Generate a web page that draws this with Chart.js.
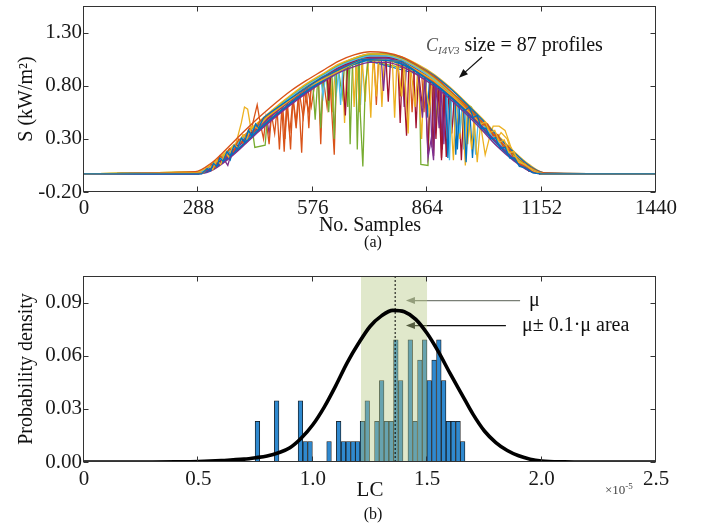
<!DOCTYPE html>
<html><head><meta charset="utf-8">
<script src="https://cdn.jsdelivr.net/npm/chart.js@4.4.1/dist/chart.umd.min.js"></script>
<style>
html,body{margin:0;padding:0;background:#fff;}
body{width:704px;height:529px;position:relative;overflow:hidden;font-family:'Liberation Serif','Times New Roman',serif;}
canvas{position:absolute;left:0;}
#c1{top:0;}
#c2{top:260px;}
.t{position:absolute;white-space:nowrap;line-height:1;color:#111;}
</style></head><body>
<canvas id="c1" width="704" height="260" style="width:704px;height:260px"></canvas>
<canvas id="c2" width="704" height="269" style="width:704px;height:269px"></canvas>
<div class="t" style="left:373px;top:234px;font-size:16px;transform:translateX(-50%)">(a)</div>
<div class="t" style="left:373px;top:506px;font-size:16px;transform:translateX(-50%)">(b)</div>
<div class="t" style="left:426px;top:34px;font-size:20px;"><span style="font-style:italic;color:#555;font-size:18px">C</span><span style="font-style:italic;color:#555;font-size:11px;position:relative;top:3px">I4V3</span> size = 87 profiles</div>
<div class="t" style="left:529px;top:289px;font-size:20px;">μ</div>
<div class="t" style="left:522px;top:314px;font-size:20px;">μ± 0.1·μ area</div>
<div class="t" style="left:605px;top:483px;font-size:13px;color:#444">×10<span style="font-size:9px;position:relative;top:-5px">-5</span></div>
<script>
// ---------------- (a) profiles ----------------
const sampleTicks = [0, 288, 576, 864, 1152, 1440];
const irradianceTicks = [-0.2, 0.3, 0.8, 1.3];
const clearGrid = [0, 280, 320, 360, 400, 440, 480, 520, 560, 600, 640, 680, 720, 760, 800, 840, 880, 920, 960, 1000, 1040, 1080, 1120, 1160, 1440];
const clear1 = [-0.03,-0.03,0.02,0.13,0.27,0.41,0.54,0.66,0.77,0.87,0.96,1.02,1.06,1.06,1.02,0.94,0.84,0.71,0.57,0.42,0.26,0.12,0.01,-0.03,-0.03];
const clear2 = [-0.03,-0.03,0.04,0.16,0.30,0.44,0.57,0.69,0.80,0.89,0.98,1.04,1.08,1.08,1.04,0.96,0.86,0.73,0.59,0.44,0.28,0.13,0.02,-0.03,-0.03];
const clear3 = [-0.03,-0.02,0.05,0.18,0.32,0.46,0.59,0.71,0.82,0.91,1.00,1.06,1.10,1.09,1.05,0.97,0.87,0.74,0.60,0.45,0.29,0.14,0.03,-0.03,-0.03];
const clear4 = [-0.03,-0.03,0.01,0.12,0.25,0.39,0.52,0.64,0.75,0.85,0.94,1.00,1.04,1.04,1.00,0.92,0.82,0.70,0.56,0.41,0.25,0.11,0.01,-0.03,-0.03];
const clear5 = [-0.03,-0.03,0.03,0.15,0.29,0.43,0.56,0.68,0.78,0.88,0.97,1.03,1.07,1.07,1.03,0.95,0.85,0.72,0.58,0.43,0.27,0.12,0.02,-0.03,-0.03];
const clear6 = [-0.03,-0.02,0.04,0.17,0.31,0.45,0.58,0.70,0.81,0.90,0.99,1.05,1.09,1.09,1.05,0.97,0.87,0.74,0.60,0.45,0.29,0.15,0.03,-0.03,-0.03];
const clear7 = [-0.03,-0.03,0.02,0.14,0.28,0.42,0.55,0.67,0.78,0.88,0.97,1.03,1.07,1.07,1.03,0.95,0.85,0.73,0.59,0.44,0.28,0.13,0.02,-0.03,-0.03];
const clear8 = [-0.03,-0.03,0.03,0.14,0.28,0.42,0.55,0.67,0.77,0.87,0.96,1.03,1.07,1.07,1.03,0.95,0.86,0.73,0.59,0.44,0.27,0.13,0.02,-0.03,-0.03];
const clear9 = [-0.03,-0.01,0.07,0.21,0.36,0.50,0.63,0.75,0.85,0.94,1.03,1.09,1.12,1.11,1.07,0.99,0.89,0.76,0.62,0.47,0.31,0.16,0.04,-0.02,-0.03];
const clear10 = [-0.03,-0.03,0.00,0.10,0.23,0.37,0.50,0.62,0.73,0.83,0.92,0.98,1.02,1.02,0.98,0.90,0.80,0.68,0.54,0.39,0.23,0.10,0.00,-0.03,-0.03];
const clear11 = [-0.03,-0.03,0.01,0.11,0.24,0.38,0.51,0.63,0.74,0.84,0.94,1.01,1.06,1.08,1.06,0.99,0.90,0.78,0.64,0.49,0.33,0.18,0.05,-0.02,-0.03];
const clear12 = [-0.03,-0.02,0.05,0.17,0.31,0.45,0.58,0.70,0.80,0.90,0.99,1.06,1.10,1.10,1.06,0.98,0.88,0.75,0.61,0.46,0.30,0.15,0.03,-0.03,-0.03];
const clear13 = [-0.03,-0.03,0.03,0.15,0.29,0.43,0.56,0.68,0.79,0.89,0.98,1.04,1.08,1.08,1.04,0.96,0.86,0.74,0.60,0.45,0.29,0.14,0.03,-0.03,-0.03];
const clear14 = [-0.03,-0.03,0.02,0.13,0.27,0.41,0.54,0.66,0.77,0.87,0.97,1.04,1.09,1.10,1.07,1.00,0.91,0.79,0.65,0.50,0.34,0.19,0.06,-0.02,-0.03];

const cloudyOrange = [[0,-0.03],[300,-0.02],[360,0.15],[420,0.37],[436,0.62],[444,0.44],[452,0.30],[458,0.50],[466,0.25],[472,0.53],[480,0.35],[486,0.58],[492,0.20],[498,0.60],[504,0.18],[510,0.64],[518,0.35],[526,0.68],[534,0.40],[542,0.74],[552,0.50],[562,0.79],[572,0.60],[582,0.84],[600,0.88],[640,0.98],[700,1.05],[730,1.07],[736,0.62],[742,1.07],[760,1.07],[790,1.05],[796,0.70],[802,1.03],[820,0.99],[826,0.55],[832,0.97],[860,0.89],[900,0.77],[960,0.57],[1020,0.33],[1080,0.11],[1120,0.00],[1150,-0.03],[1440,-0.03]];
const cloudyGreen = [[0,-0.03],[300,-0.01],[400,0.30],[424,0.38],[430,0.22],[456,0.24],[462,0.52],[520,0.68],[560,0.78],[576,0.82],[582,0.48],[588,0.84],[610,0.91],[616,0.55],[622,0.93],[640,0.97],[650,0.70],[656,0.99],[666,1.01],[670,0.25],[676,1.02],[690,1.03],[696,0.50],[702,0.04],[708,0.80],[716,1.05],[760,1.07],[820,0.99],[844,0.93],[848,0.06],[866,0.05],[872,0.87],[900,0.78],[940,0.66],[955,0.63],[970,0.60],[985,0.52],[1000,0.42],[1060,0.18],[1120,0.00],[1150,-0.03],[1440,-0.03]];
const cloudyRed = [[0,-0.03],[300,-0.02],[400,0.29],[500,0.62],[600,0.88],[612,0.91],[616,0.66],[622,0.93],[650,0.99],[658,0.52],[664,1.01],[700,1.05],[760,1.07],[766,0.65],[772,1.06],[790,1.04],[796,0.45],[802,1.02],[812,0.33],[818,1.00],[830,0.96],[836,0.40],[842,0.93],[852,0.60],[858,0.90],[866,0.16],[872,0.86],[880,0.84],[886,0.30],[892,0.80],[900,0.12],[906,0.75],[912,0.13],[918,0.71],[940,0.64],[1000,0.42],[1060,0.18],[1120,0.00],[1150,-0.03],[1440,-0.03]];
const cloudyPurple = [[0,-0.03],[300,-0.02],[350,0.12],[362,0.05],[372,0.18],[440,0.43],[520,0.68],[600,0.88],[680,1.03],[740,1.07],[800,1.03],[840,0.94],[852,0.50],[858,0.91],[866,0.12],[874,0.30],[880,0.10],[886,0.82],[894,0.40],[900,0.77],[906,0.25],[912,0.74],[960,0.57],[1000,0.42],[1060,0.18],[1120,0.00],[1150,-0.03],[1440,-0.03]];
const cloudyYellow = [[0,-0.03],[300,-0.01],[380,0.22],[396,0.45],[404,0.60],[412,0.58],[420,0.40],[460,0.51],[540,0.74],[640,0.98],[676,1.03],[680,0.60],[686,1.04],[694,0.55],[700,1.06],[708,0.65],[714,1.07],[722,0.50],[728,1.08],[736,0.70],[742,1.08],[800,1.04],[860,0.90],[920,0.72],[930,0.10],[936,0.68],[946,0.30],[952,0.63],[960,0.05],[966,0.58],[976,0.20],[982,0.50],[990,0.08],[998,0.44],[1010,0.15],[1020,0.30],[1030,0.42],[1045,0.42],[1060,0.38],[1075,0.22],[1090,0.10],[1110,0.03],[1130,-0.01],[1150,-0.03],[1440,-0.03]];
const cloudyCyan = [[0,-0.03],[300,-0.02],[400,0.30],[500,0.62],[596,0.87],[602,0.70],[608,0.90],[640,0.97],[646,0.62],[652,0.99],[700,1.05],[780,1.05],[850,0.91],[900,0.77],[914,0.73],[920,0.10],[926,0.70],[940,0.64],[946,0.35],[952,0.61],[1000,0.42],[1060,0.18],[1120,0.00],[1150,-0.03],[1440,-0.03]];
const cloudyBlue = [[0,-0.03],[300,-0.02],[360,0.14],[368,0.10],[376,0.20],[500,0.62],[580,0.83],[680,1.03],[760,1.07],[840,0.94],[910,0.75],[916,0.12],[922,0.72],[934,0.66],[940,0.20],[946,0.64],[956,0.58],[962,0.08],[968,0.55],[1000,0.42],[1060,0.18],[1120,0.00],[1150,-0.03],[1440,-0.03]];
const cloudyOrange2 = [[0,-0.03],[300,-0.02],[420,0.37],[500,0.62],[506,0.30],[512,0.65],[520,0.20],[526,0.69],[534,0.45],[540,0.73],[548,0.17],[554,0.76],[566,0.55],[572,0.81],[600,0.88],[700,1.05],[760,1.07],[840,0.94],[900,0.77],[1000,0.42],[1060,0.18],[1120,0.00],[1150,-0.03],[1440,-0.03]];
const cloudyYellow2 = [[0,-0.03],[300,-0.01],[440,0.44],[520,0.68],[620,0.94],[700,1.06],[760,1.08],[776,1.06],[782,0.50],[788,1.05],[800,0.70],[806,1.03],[816,0.35],[822,0.99],[834,0.60],[840,0.95],[850,0.30],[856,0.91],[870,0.55],[876,0.87],[900,0.78],[960,0.58],[1040,0.26],[1120,0.01],[1150,-0.03],[1440,-0.03]];
const cloudyRed2 = [[0,-0.03],[300,-0.02],[440,0.43],[560,0.78],[680,1.03],[760,1.07],[840,0.94],[876,0.86],[880,0.14],[886,0.83],[896,0.80],[900,0.10],[908,0.76],[920,0.71],[926,0.35],[932,0.68],[944,0.62],[950,0.10],[956,0.59],[970,0.53],[1000,0.42],[1060,0.18],[1120,0.00],[1150,-0.03],[1440,-0.03]];
const cloudyGreen2 = [[0,-0.03],[300,-0.02],[420,0.37],[520,0.68],[590,0.86],[596,0.40],[602,0.88],[624,0.94],[630,0.30],[636,0.96],[660,1.00],[664,0.60],[670,1.02],[684,1.04],[688,0.20],[694,1.05],[740,1.07],[800,1.03],[900,0.77],[1000,0.42],[1060,0.18],[1120,0.00],[1150,-0.03],[1440,-0.03]];
const cloudyPurple2 = [[0,-0.03],[300,-0.02],[400,0.29],[460,0.50],[466,0.35],[472,0.53],[560,0.78],[700,1.05],[748,1.07],[754,0.75],[760,1.07],[800,1.03],[806,0.60],[812,1.01],[870,0.87],[876,0.22],[882,0.84],[896,0.79],[902,0.20],[908,0.76],[1000,0.42],[1060,0.18],[1120,0.00],[1150,-0.03],[1440,-0.03]];
const cloudyCyan2 = [[0,-0.03],[300,-0.02],[500,0.62],[630,0.96],[636,0.75],[642,0.97],[690,1.04],[696,0.62],[702,1.05],[800,1.03],[950,0.61],[956,0.20],[962,0.57],[980,0.49],[986,0.15],[992,0.45],[1060,0.18],[1120,0.00],[1150,-0.03],[1440,-0.03]];
const cloudyBlue2 = [[0,-0.03],[300,-0.02],[500,0.62],[700,1.05],[860,0.89],[864,0.50],[870,0.87],[930,0.68],[936,0.15],[942,0.65],[972,0.52],[978,0.12],[984,0.48],[1060,0.18],[1120,0.00],[1150,-0.03],[1440,-0.03]];
const cloudyOrange3 = [[0,-0.03],[300,-0.02],[330,0.06],[340,0.12],[350,0.08],[370,0.20],[390,0.26],[400,0.33],[420,0.37],[560,0.78],[566,0.40],[572,0.81],[590,0.86],[596,0.25],[602,0.88],[612,0.60],[618,0.92],[630,0.15],[636,0.96],[700,1.05],[760,1.07],[850,0.92],[856,0.55],[862,0.89],[900,0.77],[1000,0.42],[1060,0.18],[1120,0.00],[1150,-0.03],[1440,-0.03]];
const cloudyYellow3 = [[0,-0.03],[300,-0.01],[500,0.62],[620,0.94],[626,0.55],[632,0.96],[650,1.00],[656,0.45],[662,1.01],[744,1.08],[750,0.60],[756,1.07],[890,0.81],[896,0.40],[902,0.77],[960,0.58],[966,0.25],[972,0.55],[1040,0.30],[1050,0.36],[1065,0.30],[1080,0.14],[1120,0.01],[1150,-0.03],[1440,-0.03]];
const cloudyGreen3 = [[0,-0.03],[300,-0.02],[600,0.88],[700,1.05],[850,0.93],[880,0.86],[886,0.45],[892,0.82],[930,0.72],[950,0.66],[975,0.60],[990,0.50],[1000,0.44],[1060,0.18],[1120,0.00],[1150,-0.03],[1440,-0.03]];
const wiggleBlue = [[0,-0.03],[296,-0.03],[310,0.02],[318,0.00],[326,0.07],[334,0.04],[342,0.12],[350,0.09],[360,0.18],[368,0.14],[378,0.24],[386,0.20],[396,0.31],[404,0.27],[414,0.38],[422,0.33],[432,0.44],[440,0.40],[452,0.50],[470,0.55],[520,0.68],[600,0.88],[700,1.05],[800,1.03],[900,0.77],[960,0.57],[970,0.60],[980,0.50],[990,0.52],[1000,0.40],[1012,0.40],[1024,0.30],[1036,0.31],[1048,0.21],[1060,0.22],[1072,0.12],[1084,0.12],[1096,0.04],[1110,0.03],[1130,-0.02],[1150,-0.03],[1440,-0.03]];
const wiggleYellow = [[0,-0.03],[300,-0.02],[316,0.05],[324,0.01],[334,0.10],[344,0.06],[356,0.17],[364,0.13],[376,0.24],[388,0.22],[400,0.34],[410,0.30],[424,0.42],[436,0.40],[460,0.50],[560,0.78],[700,1.05],[800,1.03],[880,0.85],[940,0.66],[1000,0.44],[1010,0.46],[1022,0.36],[1034,0.38],[1046,0.27],[1058,0.29],[1070,0.17],[1082,0.18],[1094,0.08],[1110,0.06],[1130,0.00],[1150,-0.03],[1440,-0.03]];
const wiggleOrange = [[0,-0.03],[300,-0.02],[312,0.03],[322,0.06],[330,0.03],[342,0.14],[352,0.11],[366,0.21],[376,0.18],[390,0.30],[400,0.26],[416,0.40],[426,0.36],[444,0.47],[480,0.56],[600,0.88],[700,1.05],[800,1.03],[900,0.79],[960,0.60],[990,0.49],[1004,0.43],[1016,0.44],[1030,0.33],[1042,0.34],[1056,0.22],[1068,0.23],[1080,0.13],[1100,0.06],[1130,0.00],[1150,-0.03],[1440,-0.03]];

// ---------------- (b) histogram ----------------
const lcTicks = [0, 0.5, 1.0, 1.5, 2.0, 2.5];
const lcTickLabels = ['0', '0.5', '1.0', '1.5', '2.0', '2.5'];
const densityTicks = [0, 0.03, 0.06, 0.09];
const binCenters = [0.758,0.779,0.800,0.821,0.842,0.863,0.884,0.904,0.925,0.946,0.967,0.988,1.009,1.030,1.050,1.071,1.092,1.113,1.134,1.155,1.176,1.196,1.217,1.238,1.259,1.280,1.301,1.322,1.343,1.363,1.384,1.405,1.426,1.447,1.468,1.489,1.509,1.530,1.551,1.572,1.593,1.614,1.635,1.655];
const binDensity = [0.023,0,0,0,0.0345,0,0,0,0,0.0345,0.0115,0.0115,0,0,0,0.0115,0,0.023,0.0115,0.0115,0.0115,0.0115,0.023,0.0345,0,0.023,0.046,0.023,0.023,0.069,0.046,0,0.069,0.023,0.0575,0.069,0.046,0.0575,0.069,0.046,0.023,0.023,0.023,0.0115];
const fitX = [0,0.1,0.2,0.3,0.4,0.5,0.6,0.7,0.75,0.8,0.85,0.9,0.95,1.0,1.05,1.1,1.15,1.2,1.25,1.3,1.35,1.4,1.45,1.5,1.55,1.6,1.65,1.7,1.75,1.8,1.85,1.9,1.95,2.0,2.1,2.2,2.5];
const fitY = [0,0,0,0,0.0001,0.0003,0.0008,0.0016,0.0024,0.0034,0.0052,0.008,0.0135,0.021,0.031,0.043,0.056,0.067,0.0765,0.0825,0.0856,0.0848,0.0805,0.0725,0.062,0.05,0.0385,0.027,0.0175,0.011,0.0065,0.0035,0.0016,0.0006,0.0001,0,0];
const muValue = 1.36;
const muArea = [1.21, 1.50];

const FONT = "'Liberation Serif','Times New Roman',serif";
const C = {blue:'#0072BD', orange:'#D95319', yellow:'#EDB120', purple:'#7E2F8E', green:'#77AC30', cyan:'#4DBEEE', red:'#A2142F'};

function frame(tx, ty) {
  return {id:'frame', afterDatasetsDraw(chart) {
    const {ctx, chartArea:a} = chart; const x = chart.scales.x, y = chart.scales.y;
    ctx.save(); ctx.strokeStyle = '#333'; ctx.lineWidth = 1;
    const L = Math.round(a.left)-0.5, R = Math.round(a.right)-0.5, T = Math.round(a.top)+0.5, B = Math.round(a.bottom)-0.5;
    ctx.strokeRect(L, T, R-L, B-T);
    ctx.beginPath();
    tx.forEach(v => { const p = Math.round(x.getPixelForValue(v))-0.5; ctx.moveTo(p,B); ctx.lineTo(p,B-5); ctx.moveTo(p,T); ctx.lineTo(p,T+5); });
    ty.forEach(v => { const p = Math.round(y.getPixelForValue(v))+0.5; ctx.moveTo(L,p); ctx.lineTo(L+5,p); ctx.moveTo(R,p); ctx.lineTo(R-5,p); });
    ctx.stroke(); ctx.restore();
  }};
}
function arrow(ctx, x0, y0, x1, y1, color, w) {
  const ang = Math.atan2(y1-y0, x1-x0), len = 9, hw = 3.5;
  ctx.save(); ctx.strokeStyle = color; ctx.fillStyle = color; ctx.lineWidth = w;
  ctx.beginPath(); ctx.moveTo(x0,y0); ctx.lineTo(x1 - Math.cos(ang)*len*0.8, y1 - Math.sin(ang)*len*0.8); ctx.stroke();
  ctx.beginPath(); ctx.moveTo(x1,y1);
  ctx.lineTo(x1 - Math.cos(ang)*len + Math.sin(ang)*hw, y1 - Math.sin(ang)*len - Math.cos(ang)*hw);
  ctx.lineTo(x1 - Math.cos(ang)*len - Math.sin(ang)*hw, y1 - Math.sin(ang)*len + Math.cos(ang)*hw);
  ctx.closePath(); ctx.fill(); ctx.restore();
}

const smooth = (arr, color) => ({data: clearGrid.map((s,i)=>({x:s, y:arr[i]})), borderColor:color, borderWidth:1.4, pointRadius:0, cubicInterpolationMode:'monotone', fill:false});
const cloudy = (arr, color) => ({data: arr.map(p=>({x:p[0], y:p[1]})), borderColor:color, borderWidth:1.3, pointRadius:0, tension:0, fill:false});

new Chart(document.getElementById('c1'), {
  type:'line',
  data:{datasets:[
    cloudy(wiggleBlue, C.blue), cloudy(wiggleYellow, C.yellow), cloudy(wiggleOrange, C.orange),
    smooth(clear1, C.purple), smooth(clear2, C.cyan), smooth(clear3, C.yellow), smooth(clear4, C.blue),
    smooth(clear5, C.red), smooth(clear6, C.green), smooth(clear7, C.orange), smooth(clear8, C.cyan),
    smooth(clear9, C.orange), smooth(clear10, C.purple), smooth(clear11, C.blue), smooth(clear12, C.green),
    smooth(clear13, C.red), smooth(clear14, C.yellow),
    cloudy(cloudyBlue, C.blue), cloudy(cloudyCyan, C.cyan), cloudy(cloudyPurple, C.purple),
    cloudy(cloudyYellow2, C.yellow), cloudy(cloudyRed, C.red), cloudy(cloudyGreen, C.green),
    cloudy(cloudyYellow, C.yellow), cloudy(cloudyOrange2, C.orange), cloudy(cloudyOrange, C.orange),
    cloudy(cloudyRed2, C.red), cloudy(cloudyGreen2, C.green), cloudy(cloudyPurple2, C.purple),
    cloudy(cloudyCyan2, C.cyan), cloudy(cloudyBlue2, C.blue), cloudy(cloudyOrange3, C.orange),
    cloudy(cloudyYellow3, C.yellow), cloudy(cloudyGreen3, C.green)
  ]},
  options:{
    responsive:false, animation:false, events:[],
    layout:{padding:{left:0, right:48, top:6, bottom:0}},
    plugins:{legend:{display:false}, tooltip:{enabled:false}},
    scales:{
      x:{type:'linear', min:0, max:1440,
        grid:{display:false, drawTicks:false}, border:{display:false},
        afterBuildTicks:s=>{ s.ticks = sampleTicks.map(v=>({value:v})); },
        ticks:{padding:4, maxRotation:0, autoSkip:false, color:'#1a1a1a', font:{family:FONT, size:21}, callback:v=>String(v)},
        title:{display:true, text:'No. Samples', color:'#111', font:{family:FONT, size:20}, padding:{top:0, bottom:22}},
        afterFit:s=>{ s.height = 68; s.paddingLeft = 0; s.paddingRight = 0; }},
      y:{type:'linear', min:-0.2, max:1.55,
        grid:{display:false, drawTicks:false}, border:{display:false},
        afterBuildTicks:s=>{ s.ticks = irradianceTicks.map(v=>({value:v})); },
        ticks:{padding:2, color:'#1a1a1a', font:{family:FONT, size:21}, callback:v=>Number(v).toFixed(2)},
        title:{display:true, text:'S (kW/m²)', color:'#111', font:{family:FONT, size:20}, padding:{top:15, bottom:0}},
        afterFit:s=>{ s.width = 84; s.paddingTop = 0; s.paddingBottom = 0; }}
    }
  },
  plugins:[frame(sampleTicks, irradianceTicks), {id:'arrA', afterDraw(chart){
    const x = chart.scales.x, y = chart.scales.y;
    arrow(chart.ctx, x.getPixelForValue(1002), y.getPixelForValue(1.07), x.getPixelForValue(944), y.getPixelForValue(0.875), '#111', 1.2);
  }}]
});

new Chart(document.getElementById('c2'), {
  type:'bar',
  data:{datasets:[
    {type:'line', data: fitX.map((v,i)=>({x:v, y:fitY[i]})), borderColor:'#000', borderWidth:3.6, pointRadius:0, cubicInterpolationMode:'monotone', fill:false, order:0},
    {type:'line', data:[{x:muValue, y:0}, {x:muValue, y:0.105}], borderColor:'#000', borderWidth:1, borderDash:[2,2], pointRadius:0, fill:false, order:1},
    {type:'line', data:[{x:muArea[0], y:0.105}, {x:muArea[1], y:0.105}], borderWidth:0, borderColor:'rgba(0,0,0,0)', backgroundColor:'rgba(180,200,130,0.42)', pointRadius:0, fill:'origin', order:2},
    {type:'bar', data: binCenters.map((v,i)=>({x:v, y:binDensity[i]})), backgroundColor:'#2f89cf', borderColor:'#151515', borderWidth:0.8, barPercentage:1, categoryPercentage:1, grouped:false, order:3}
  ]},
  options:{
    responsive:false, animation:false, events:[],
    layout:{padding:{left:0, right:48, top:16, bottom:0}},
    plugins:{legend:{display:false}, tooltip:{enabled:false}},
    scales:{
      x:{type:'linear', min:0, max:2.5, offset:false,
        grid:{display:false, drawTicks:false}, border:{display:false},
        afterBuildTicks:s=>{ s.ticks = lcTicks.map(v=>({value:v})); },
        ticks:{padding:5, maxRotation:0, autoSkip:false, color:'#1a1a1a', font:{family:FONT, size:21}, callback:(v)=>{ const i = lcTicks.indexOf(v); return i>=0 ? lcTickLabels[i] : ''; }},
        title:{display:true, text:'LC', color:'#111', font:{family:FONT, size:21}, padding:{top:0, bottom:26}},
        afterFit:s=>{ s.height = 67; s.paddingLeft = 0; s.paddingRight = 0; }},
      y:{type:'linear', min:0, max:0.105,
        grid:{display:false, drawTicks:false}, border:{display:false},
        afterBuildTicks:s=>{ s.ticks = densityTicks.map(v=>({value:v})); },
        ticks:{padding:2, color:'#1a1a1a', font:{family:FONT, size:21}, callback:v=>Number(v).toFixed(2)},
        title:{display:true, text:'Probability density', color:'#111', font:{family:FONT, size:20}, padding:{top:15, bottom:0}},
        afterFit:s=>{ s.width = 84; s.paddingTop = 0; s.paddingBottom = 0; }}
    }
  },
  plugins:[frame(lcTicks, densityTicks), {id:'arrB', beforeDatasetsDraw(chart){
    const x = chart.scales.x, y = chart.scales.y, ctx = chart.ctx;
    arrow(ctx, x.getPixelForValue(1.906), y.getPixelForValue(0.0911), x.getPixelForValue(1.407), y.getPixelForValue(0.0911), '#7a7f76', 1.2);
    arrow(ctx, x.getPixelForValue(1.844), y.getPixelForValue(0.077), x.getPixelForValue(1.407), y.getPixelForValue(0.077), '#111', 1.2);
  }}]
});
</script>
</body></html>
